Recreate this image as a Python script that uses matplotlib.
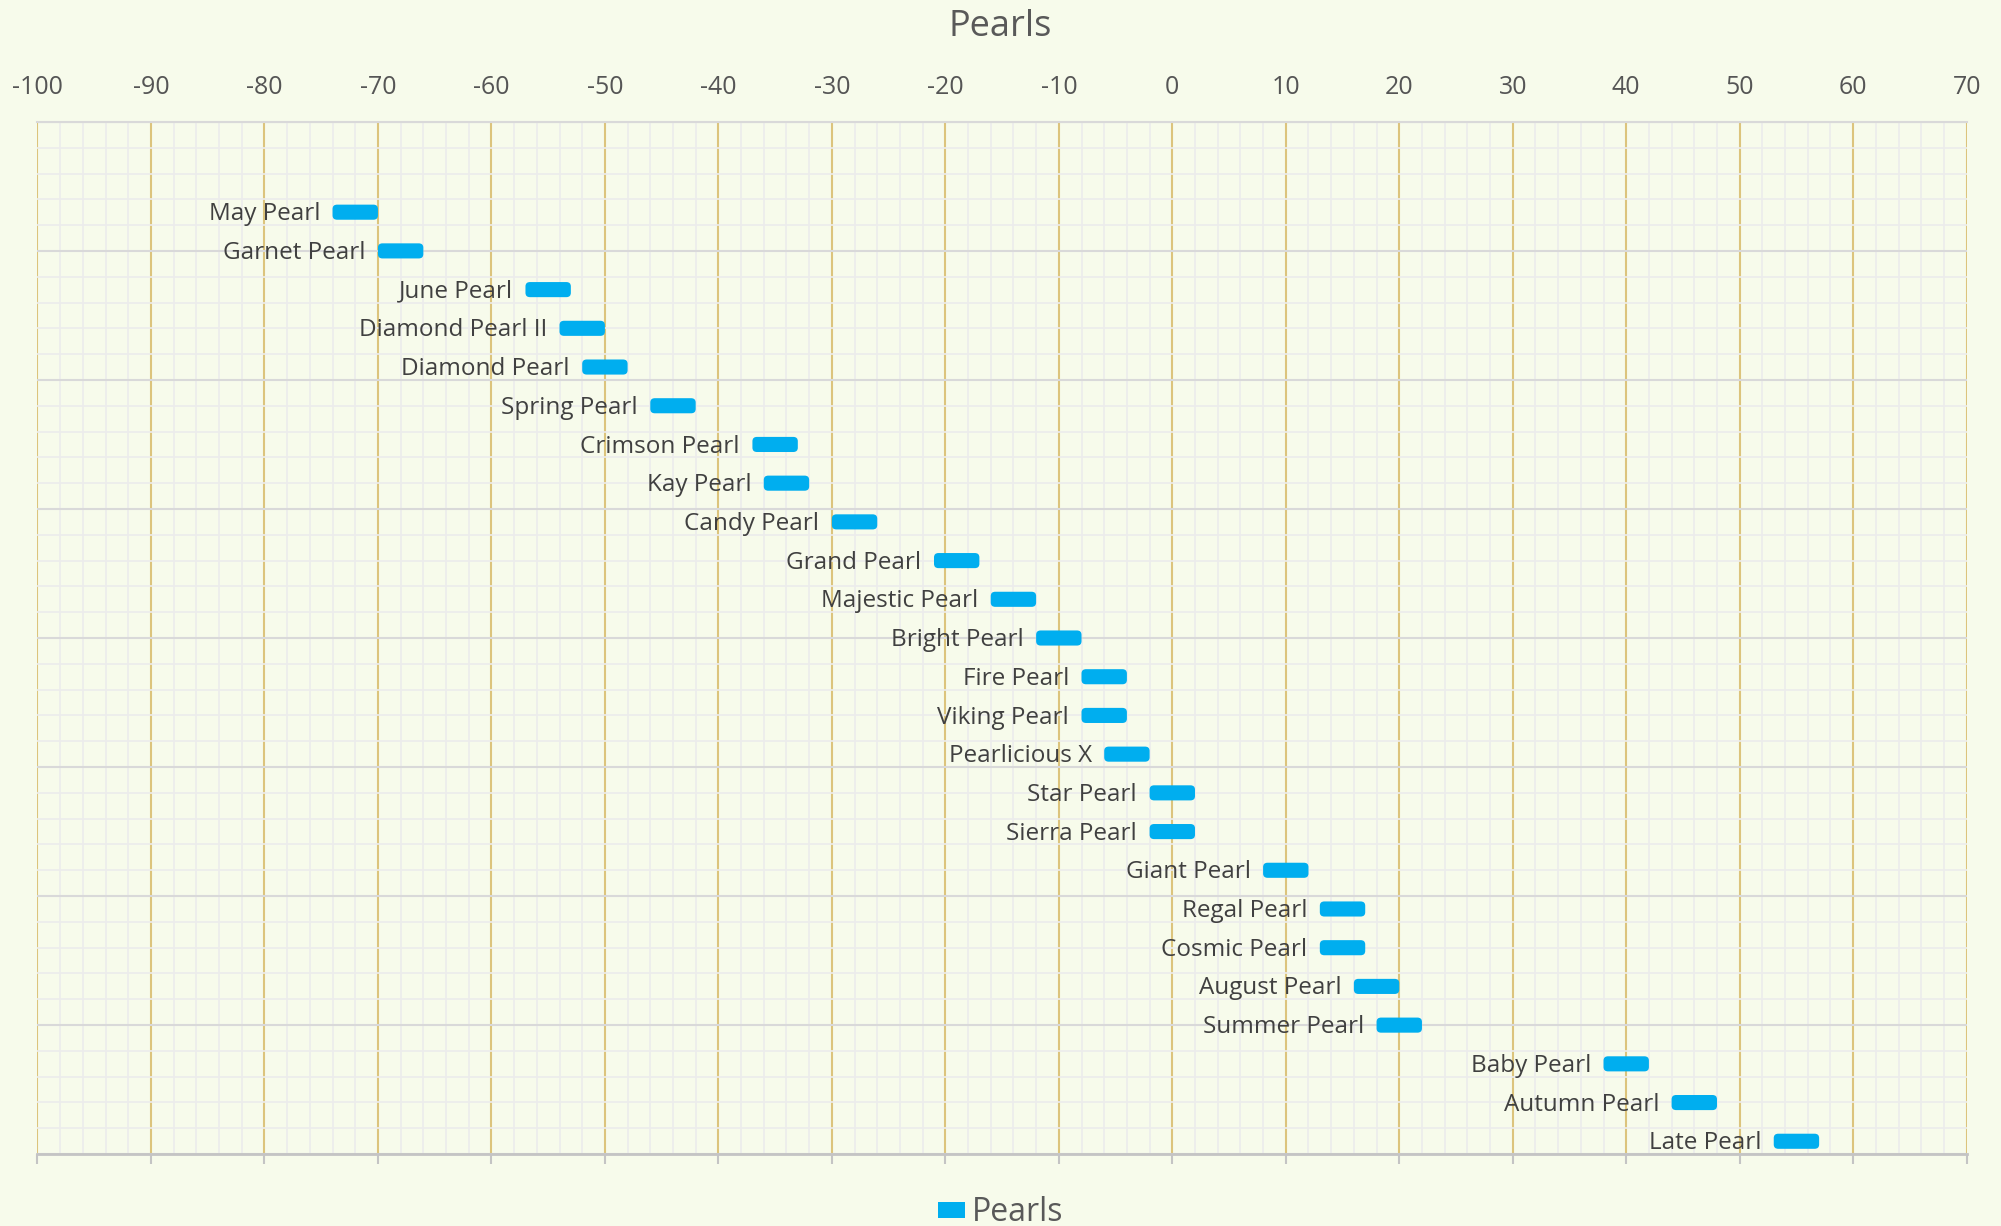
import matplotlib
matplotlib.use("Agg")
import matplotlib.pyplot as plt
from matplotlib.patches import FancyBboxPatch, Patch
from matplotlib.ticker import MultipleLocator
import numpy as np

plt.rcParams['font.family'] = ['Open Sans', 'DejaVu Sans']
plt.rcParams['axes.unicode_minus'] = False

names = ["May Pearl", "Garnet Pearl", "June Pearl", "Diamond Pearl II", "Diamond Pearl",
         "Spring Pearl", "Crimson Pearl", "Kay Pearl", "Candy Pearl", "Grand Pearl",
         "Majestic Pearl", "Bright Pearl", "Fire Pearl", "Viking Pearl", "Pearlicious X",
         "Star Pearl", "Sierra Pearl", "Giant Pearl", "Regal Pearl", "Cosmic Pearl",
         "August Pearl", "Summer Pearl", "Baby Pearl", "Autumn Pearl", "Late Pearl"]
starts = [-74, -70, -57, -54, -52, -46, -37, -36, -30, -21, -16, -12, -8, -8, -6,
          -2, -2, 8, 13, 13, 16, 18, 38, 44, 53]
ends = [-70, -66, -53, -50, -48, -42, -33, -32, -26, -17, -12, -8, -4, -4, -2,
        2, 2, 12, 17, 17, 20, 22, 42, 48, 57]
xticks = np.arange(-100, 71, 10)

bg = "#f7fbeb"
bar_color = "#00aeef"
text_color = "#404040"

fig = plt.figure(figsize=(20.01, 12.26), dpi=100, facecolor=bg)
ax = fig.add_axes([0.01874, 0.0587, 0.9641, 0.8418])
ax.set_facecolor(bg)

ypos = np.arange(len(names))
widths = np.array(ends) - np.array(starts)
bars = ax.barh(ypos, widths, left=starts, height=0.39, color=bar_color)

# swap plain rectangles for rounded ones
for b in bars:
    x, y = b.get_x(), b.get_y()
    w, h = b.get_width(), b.get_height()
    b.remove()
    ax.add_patch(FancyBboxPatch((x, y), w, h,
                                boxstyle="round,pad=0,rounding_size=0.4",
                                mutation_aspect=0.28,
                                fc=bar_color, ec="none", zorder=3))

for name, s, i in zip(names, starts, ypos):
    ax.annotate(name, xy=(s, i), xytext=(-9, -1.5), textcoords="offset points",
                ha="right", va="center", fontsize=17.5, color=text_color, zorder=4)

ax.set_xlim(xticks[0], xticks[-1])
ax.set_ylim(24.33, -2.33)

ax.set_xticks(xticks)
ax.xaxis.set_minor_locator(MultipleLocator(2))
ax.set_yticks(np.linspace(-2.33, 24.33, 9))
ax.set_yticks(np.linspace(-2.33, 24.33, 41), minor=True)

ax.grid(which="minor", color="#ececec", linewidth=1.2, zorder=0)
ax.grid(which="major", axis="y", color="#d9d9d9", linewidth=1.5, zorder=1)
ax.grid(which="major", axis="x", color="#dcc47c", linewidth=1.5, zorder=2)
ax.set_axisbelow(True)

ax.tick_params(axis="y", which="both", left=False, labelleft=False)
ax.tick_params(axis="x", which="minor", bottom=False, top=False)
ax.tick_params(axis="x", which="major", bottom=True, top=False, labelbottom=False,
               labeltop=True, length=7, width=1.5, color="#c4c4c4",
               labelsize=18, labelcolor="#555555", pad=9)

for side in ["left", "right"]:
    ax.spines[side].set_visible(False)
ax.spines["top"].set_color("#d9d9d9")
ax.spines["top"].set_linewidth(1.5)
ax.spines["bottom"].set_color("#c4c4c4")
ax.spines["bottom"].set_linewidth(2)

fig.text(0.5, 0.978, "Pearls", ha="center", va="center", fontsize=26, color="#595959")

fig.legend(handles=[Patch(facecolor=bar_color, label="Pearls")], loc="center",
           bbox_to_anchor=(0.5, 0.011), frameon=False, fontsize=23,
           labelcolor="#595959", handlelength=0.85, handleheight=0.4, handletextpad=0.2)

fig.savefig("out.png", dpi=100, facecolor=bg)
